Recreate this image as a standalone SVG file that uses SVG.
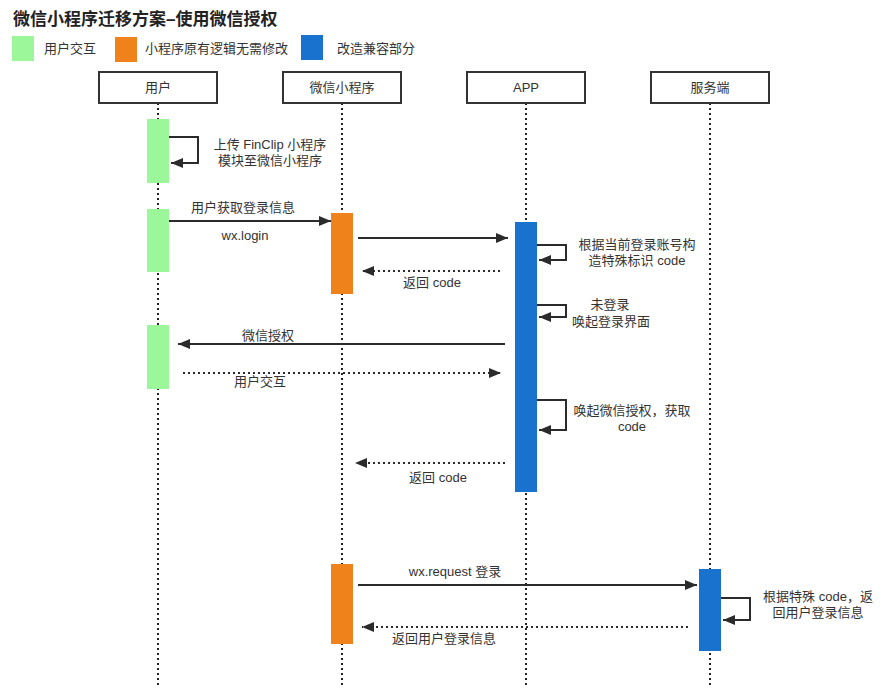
<svg xmlns="http://www.w3.org/2000/svg" width="884" height="697" viewBox="0 0 884 697">
<defs>
<marker id="ah" markerWidth="12" markerHeight="10" refX="12" refY="5" orient="auto" markerUnits="userSpaceOnUse">
<path d="M0,0 L12,5 L0,10 Z" fill="#2b2b2b"/>
</marker>
<style>
text{font-family:"Liberation Sans","Noto Sans CJK SC",sans-serif;fill:#333;font-size:13px}
.t{font-size:17px;font-weight:bold;fill:#222}
.c{text-anchor:middle}
.hd{fill:#fff;stroke:#333;stroke-width:2}
.life{stroke:#222;stroke-width:2;stroke-dasharray:2 3;fill:none}
.msg{stroke:#2b2b2b;stroke-width:2;fill:none}
.ret{stroke:#2b2b2b;stroke-width:2;stroke-dasharray:2 3;fill:none}
.g{fill:#9cf79b}.o{fill:#f0821b}.b{fill:#1a72cf}
</style>
</defs>
<rect width="884" height="697" fill="#fff"/>
<text x="13" y="25" class="t">微信小程序迁移方案–使用微信授权</text>
<g id="legend">
<rect x="12" y="36" width="22" height="25" class="g"/>
<text x="44" y="53">用户交互</text>
<rect x="115" y="37" width="22" height="25" class="o"/>
<text x="145" y="53">小程序原有逻辑无需修改</text>
<rect x="301" y="35" width="22" height="25" class="b"/>
<text x="337" y="53">改造兼容部分</text>
</g>
<g id="lifelines">
<line x1="158" y1="103" x2="158" y2="686" class="life"/>
<line x1="342" y1="103" x2="342" y2="686" class="life"/>
<line x1="526" y1="103" x2="526" y2="686" class="life"/>
<line x1="710" y1="103" x2="710" y2="686" class="life"/>
</g>
<g id="user"><rect x="99" y="72" width="118" height="31" class="hd"/><text x="158" y="92" class="c">用户</text></g>
<g id="miniprogram"><rect x="283" y="72" width="118" height="31" class="hd"/><text x="342" y="92" class="c">微信小程序</text></g>
<g id="app"><rect x="467" y="72" width="118" height="31" class="hd"/><text x="526" y="92" class="c">APP</text></g>
<g id="server"><rect x="651" y="72" width="118" height="31" class="hd"/><text x="710" y="92" class="c">服务端</text></g>
<g id="activations">
<rect x="147" y="119" width="22" height="64" class="g"/>
<rect x="147" y="209" width="22" height="63" class="g"/>
<rect x="147" y="325" width="22" height="64" class="g"/>
<rect x="331" y="213" width="22" height="81" class="o"/>
<rect x="331" y="564" width="22" height="80" class="o"/>
<rect x="515" y="222" width="22" height="270" class="b"/>
<rect x="699" y="569" width="22" height="82" class="b"/>
</g>
<g id="connectors">
<path d="M169,137 H198 V163 H171" class="msg" marker-end="url(#ah)"/>
<line x1="169" y1="221" x2="331" y2="221" class="msg" marker-end="url(#ah)"/>
<line x1="358" y1="238" x2="508" y2="238" class="msg" marker-end="url(#ah)"/>
<line x1="500" y1="271" x2="362" y2="271" class="ret" marker-end="url(#ah)"/>
<path d="M537,245 H566 V260 H539" class="msg" marker-end="url(#ah)"/>
<path d="M537,305 H566 V317 H539" class="msg" marker-end="url(#ah)"/>
<line x1="505" y1="344" x2="178" y2="344" class="msg" marker-end="url(#ah)"/>
<line x1="183" y1="373" x2="501" y2="373" class="ret" marker-end="url(#ah)"/>
<path d="M537,400 H566 V430 H539" class="msg" marker-end="url(#ah)"/>
<line x1="505" y1="463" x2="355" y2="463" class="ret" marker-end="url(#ah)"/>
<line x1="358" y1="585" x2="697" y2="585" class="msg" marker-end="url(#ah)"/>
<path d="M721,598 H750 V620 H723" class="msg" marker-end="url(#ah)"/>
<line x1="688" y1="627" x2="362" y2="627" class="ret" marker-end="url(#ah)"/>
</g>
<g id="labels">
<text x="270" y="149" class="c">上传 FinClip 小程序</text>
<text x="270" y="165" class="c">模块至微信小程序</text>
<text x="243" y="212" class="c">用户获取登录信息</text>
<text x="245" y="240" class="c">wx.login</text>
<text x="432" y="287" class="c">返回 code</text>
<text x="637" y="249" class="c">根据当前登录账号构</text>
<text x="637" y="265" class="c">造特殊标识 code</text>
<text x="610" y="309" class="c">未登录</text>
<text x="611" y="326" class="c">唤起登录界面</text>
<text x="268" y="340" class="c">微信授权</text>
<text x="260" y="386" class="c">用户交互</text>
<text x="632" y="415" class="c">唤起微信授权，获取</text>
<text x="632" y="431" class="c">code</text>
<text x="438" y="482" class="c">返回 code</text>
<text x="455" y="576" class="c">wx.request 登录</text>
<text x="818" y="601" class="c">根据特殊 code，返</text>
<text x="818" y="617" class="c">回用户登录信息</text>
<text x="444" y="643" class="c">返回用户登录信息</text>
</g>
</svg>
